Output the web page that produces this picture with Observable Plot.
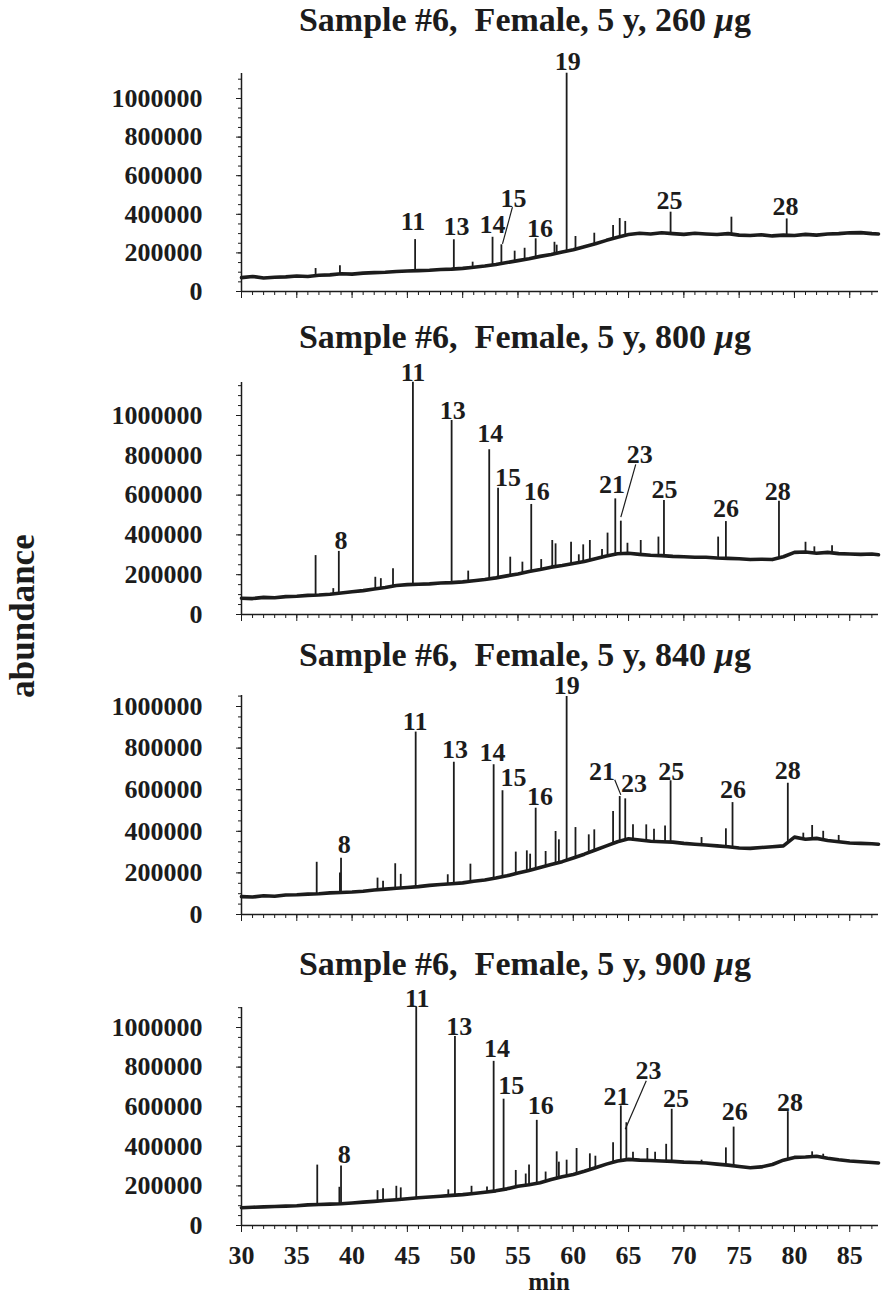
<!DOCTYPE html>
<html><head><meta charset="utf-8">
<script src="https://cdn.jsdelivr.net/npm/d3@7"></script>
<script src="https://cdn.jsdelivr.net/npm/@observablehq/plot@0.6"></script>
<style>
body{margin:0;background:#fff;}
#wrap{position:relative;width:882px;height:1298px;overflow:hidden;font-family:"Liberation Serif","Times New Roman",serif;color:#1c1c1c;}
.title{position:absolute;left:525px;transform:translate(-50%,-50%);font-weight:bold;font-size:34px;white-space:pre;line-height:1;}
.panel{position:absolute;left:0;}
#ylab{position:absolute;left:22px;top:616px;transform:translate(-50%,-50%) rotate(-90deg);font-weight:bold;font-size:35px;white-space:nowrap;line-height:1;}
#xlab{position:absolute;left:549px;top:1281px;transform:translate(-50%,-50%);font-weight:bold;font-size:25px;line-height:1;}
</style>
</head><body>
<div id="wrap"></div>
<script>
// ---------- data ----------
const xTicks = [30,35,40,45,50,55,60,65,70,75,80,85];
const yTicks = [0,200000,400000,600000,800000,1000000];
const titleText = "Sample #6,  Female, 5 y, ";
const doses = ["260","800","840","900"];
const unitMu = "\u00b5";
const unitG = "g";
const yAxisLabel = "abundance";
const xAxisLabel = "min";

const base260 = [[30,72000],[31,78000],[32,70000],[33,74000],[34,76000],[35,80000],[36,78000],[37,84000],[38,86000],[39,92000],[40,90000],[41,95000],[42,98000],[43,100000],[44,104000],[45,106000],[46,108000],[47,110000],[48,114000],[49,116000],[50,120000],[51,126000],[52,132000],[53,140000],[54,150000],[55,160000],[56,170000],[57,182000],[58,192000],[59,205000],[60,216000],[61,232000],[62,247000],[63,265000],[64,281000],[65,295000],[66,302000],[67,298000],[68,304000],[69,300000],[70,296000],[71,302000],[72,298000],[73,295000],[74,300000],[75,292000],[76,290000],[77,294000],[78,288000],[79,292000],[80,290000],[81,296000],[82,292000],[83,298000],[84,300000],[85,304000],[86,305000],[87,300000],[87.6,298000]];
const peaks260 = [[36.7,119000],[38.9,134000],[43.8,95000],[45.7,269000],[49.2,268000],[50.9,152000],[52.7,281000],[53.5,242000],[54.7,209000],[55.6,224000],[56.6,273000],[58.3,255000],[58.5,240000],[59.4,1131000],[60.2,285000],[61.9,302000],[63.6,342000],[64.2,378000],[64.7,363000],[68.8,411000],[74.3,385000],[79.3,376000]];
const labels260 = [["11",45.5,361000],["13",49.45,337000],["14",52.7,347000],["15",54.6,480000],["16",57.0,328000],["19",59.5,1190000],["25",68.7,470000],["28",79.2,440000]];
const leaders260 = [[54.5,437000,53.6,247000]];

const base800 = [[30,82000],[31,80000],[32,86000],[33,84000],[34,90000],[35,92000],[36,96000],[37,98000],[38,102000],[39,108000],[40,114000],[41,120000],[42,128000],[43,136000],[44,146000],[45,150000],[46,152000],[47,154000],[48,158000],[49,160000],[50,164000],[51,170000],[52,176000],[53,184000],[54,194000],[55,204000],[56,216000],[57,226000],[58,238000],[59,246000],[60,256000],[61,266000],[62,280000],[63,294000],[64,305000],[65,308000],[66,302000],[67,298000],[68,296000],[69,292000],[70,290000],[71,288000],[72,288000],[73,284000],[74,282000],[75,280000],[76,276000],[77,278000],[78,276000],[79,290000],[80,312000],[81,314000],[82,308000],[83,312000],[84,306000],[85,304000],[86,302000],[87,304000],[87.6,300000]];
const peaks800 = [[36.7,296000],[38.3,130000],[38.8,317000],[42.1,187000],[42.6,180000],[43.7,230000],[45.5,1167000],[49.0,975000],[50.5,218000],[52.4,828000],[53.2,635000],[54.3,288000],[55.4,263000],[56.2,553000],[57.1,276000],[58.1,372000],[58.4,355000],[59.8,363000],[60.5,300000],[60.9,350000],[61.5,372000],[62.6,327000],[63.1,409000],[63.8,581000],[64.3,469000],[64.9,358000],[66.1,372000],[67.7,389000],[68.2,573000],[73.1,389000],[73.8,467000],[78.6,569000],[81.0,363000],[81.8,340000],[83.4,345000]];
const labels800 = [["8",39.0,372000],["11",45.5,1213000],["13",49.1,1025000],["14",52.5,908000],["15",54.1,690000],["16",56.7,618000],["21",63.5,650000],["23",66.0,804000],["25",68.25,627000],["26",73.8,531000],["28",78.5,615000]];
const leaders800 = [[65.65,754000,64.3,489000]];

const base840 = [[30,86000],[31,84000],[32,90000],[33,88000],[34,94000],[35,95000],[36,98000],[37,100000],[38,104000],[39,106000],[40,108000],[41,112000],[42,118000],[43,122000],[44,126000],[45,130000],[46,134000],[47,140000],[48,144000],[49,148000],[50,152000],[51,160000],[52,166000],[53,175000],[54,186000],[55,199000],[56,212000],[57,226000],[58,240000],[59,254000],[60,272000],[61,290000],[62,310000],[63,330000],[64,350000],[65,364000],[66,358000],[67,352000],[68,350000],[69,348000],[70,342000],[71,338000],[72,334000],[73,330000],[74,326000],[75,320000],[76,318000],[77,322000],[78,326000],[79,330000],[80,372000],[81,362000],[82,366000],[83,356000],[84,350000],[85,344000],[86,342000],[87,340000],[87.6,338000]];
const peaks840 = [[36.8,251000],[38.9,200000],[39.0,271000],[42.3,175000],[42.8,160000],[43.9,244000],[44.4,193000],[45.75,877000],[48.65,191000],[49.2,732000],[50.7,242000],[52.8,720000],[53.6,595000],[54.8,300000],[55.8,306000],[56.1,290000],[56.6,511000],[57.5,303000],[58.4,399000],[58.7,359000],[59.4,1048000],[60.2,418000],[61.4,383000],[61.9,407000],[63.6,495000],[64.2,567000],[64.7,556000],[65.4,431000],[66.6,431000],[67.3,410000],[68.3,426000],[68.8,643000],[71.6,370000],[73.8,412000],[74.4,538000],[79.4,631000],[80.8,391000],[81.6,428000],[82.6,400000],[84.0,380000]];
const labels840 = [["8",39.3,338000],["11",45.7,928000],["13",49.3,792000],["14",52.7,779000],["15",54.6,660000],["16",57.0,567000],["19",59.4,1100000],["21",62.6,688000],["23",65.5,631000],["25",68.85,688000],["26",74.45,600000],["28",79.4,692000]];
const leaders840 = [[63.75,648000,64.3,575000]];

const base900 = [[30,90000],[31,92000],[32,94000],[33,96000],[34,98000],[35,100000],[36,104000],[37,106000],[38,108000],[39,110000],[40,114000],[41,118000],[42,122000],[43,126000],[44,130000],[45,135000],[46,140000],[47,144000],[48,148000],[49,152000],[50,156000],[51,162000],[52,168000],[53,175000],[54,185000],[55,198000],[56,206000],[57,216000],[58,232000],[59,246000],[60,258000],[61,274000],[62,292000],[63,310000],[64,326000],[65,334000],[66,330000],[67,328000],[68,326000],[69,324000],[70,320000],[71,318000],[72,316000],[73,310000],[74,305000],[75,298000],[76,292000],[77,296000],[78,308000],[79,330000],[80,344000],[81,346000],[82,350000],[83,340000],[84,332000],[85,326000],[86,322000],[87,318000],[87.6,316000]];
const peaks900 = [[36.85,305000],[38.85,193000],[39.0,300000],[42.3,176000],[42.8,186000],[44.0,198000],[44.4,190000],[45.8,1103000],[48.7,180000],[49.3,954000],[50.8,198000],[52.2,195000],[52.8,829000],[53.7,638000],[54.8,278000],[55.7,260000],[56.0,305000],[56.7,531000],[57.5,270000],[58.5,372000],[58.7,320000],[59.4,330000],[60.3,389000],[61.5,362000],[62.0,350000],[63.6,418000],[64.3,604000],[64.8,519000],[65.4,370000],[66.7,389000],[67.4,370000],[68.4,410000],[68.9,587000],[71.6,330000],[73.8,392000],[74.5,497000],[79.4,575000],[81.6,372000],[82.6,360000]];
const labels900 = [["8",39.3,359000],["11",45.9,1145000],["13",49.7,1005000],["14",53.1,892000],["15",54.4,706000],["16",57.05,604000],["21",63.9,650000],["23",66.8,782000],["25",69.3,640000],["26",74.6,574000],["28",79.6,619000]];
const leaders900 = [[66.6,731000,64.7,486000]];

const xDomain = [30, 87.6];

// ---------- layout ----------
const series = [
  {base: base260, peaks: peaks260, labels: labels260, leaders: leaders260},
  {base: base800, peaks: peaks800, labels: labels800, leaders: leaders800},
  {base: base840, peaks: peaks840, labels: labels840, leaders: leaders840},
  {base: base900, peaks: peaks900, labels: labels900, leaders: leaders900}
];
const layout = [
  {top: 40,  frameTop: 73,   axis: 291,  px: 193, mb: 18, titleY: 20},
  {top: 355, frameTop: 382,  axis: 614,  px: 199, mb: 18, titleY: 337},
  {top: 670, frameTop: 695,  axis: 914,  px: 208, mb: 18, titleY: 655},
  {top: 982, frameTop: 1007, axis: 1225, px: 198, mb: 46, titleY: 964}
];

const wrap = document.getElementById("wrap");
const ink = "#1c1c1c";
const fontFam = "Liberation Serif, Times New Roman, serif";
const fmt = d3.format("d");

series.forEach((s, i) => {
  const L = layout[i];
  const t = document.createElement("div");
  t.className = "title";
  t.style.top = L.titleY + "px";
  t.innerHTML = titleText + doses[i] + " <i>" + unitMu + "</i>" + unitG;
  wrap.appendChild(t);

  const ymax = (L.axis - L.frameTop) / L.px * 1e6;
  const last = i === series.length - 1;
  // baseline lookup for the foot of each peak
  const bx = s.base.map(d => d[0]), by = s.base.map(d => d[1]);
  const foot = d3.scaleLinear().domain(bx).range(by);

  const chart = Plot.plot({
    width: 882,
    height: L.axis + L.mb - L.top,
    marginLeft: 241,
    marginRight: 4,
    marginTop: L.frameTop - L.top,
    marginBottom: L.mb,
    style: {fontFamily: fontFam, fontWeight: "bold", fontSize: "26px", color: ink, background: "transparent", overflow: "visible"},
    x: {domain: xDomain},
    y: {domain: [0, ymax]},
    marks: [
      Plot.axisY({ticks: d3.range(0, ymax, 50000), tickSize: 3, text: null, label: null, stroke: ink}),
      Plot.axisY({ticks: yTicks, tickSize: 5, tickPadding: 34, tickFormat: fmt, label: null, stroke: ink, fontSize: 26, fontWeight: "bold", fill: ink}),
      Plot.axisX({ticks: d3.range(30, 88, 1), tickSize: 4, text: null, label: null, stroke: ink}),
      Plot.axisX({ticks: xTicks, tickSize: 7, tickPadding: 13, text: last ? undefined : null, tickFormat: fmt, label: null, stroke: ink, fontSize: 26, fontWeight: "bold", fill: ink}),
      Plot.ruleY([0], {stroke: ink, strokeWidth: 1.5}),
      Plot.ruleX([30], {stroke: ink, strokeWidth: 1.5}),
      Plot.line(s.base, {x: d => d[0], y: d => d[1], stroke: ink, strokeWidth: 3.6, strokeLinejoin: "round"}),
      Plot.ruleX(s.peaks, {x: d => d[0], y1: d => foot(d[0]), y2: d => d[1], stroke: ink, strokeWidth: 1.8}),
      Plot.link(s.leaders, {x1: d => d[0], y1: d => d[1], x2: d => d[2], y2: d => d[3], stroke: ink, strokeWidth: 1.2}),
      Plot.text(s.labels, {x: d => d[1], y: d => d[2], text: d => d[0], fontSize: 26, fontWeight: "bold", fill: ink, fontFamily: fontFam})
    ]
  });
  chart.classList.add("panel");
  chart.style.top = L.top + "px";
  wrap.appendChild(chart);
});

const yl = document.createElement("div");
yl.id = "ylab"; yl.textContent = yAxisLabel; wrap.appendChild(yl);
const xl = document.createElement("div");
xl.id = "xlab"; xl.textContent = xAxisLabel; wrap.appendChild(xl);
</script>
</body></html>
